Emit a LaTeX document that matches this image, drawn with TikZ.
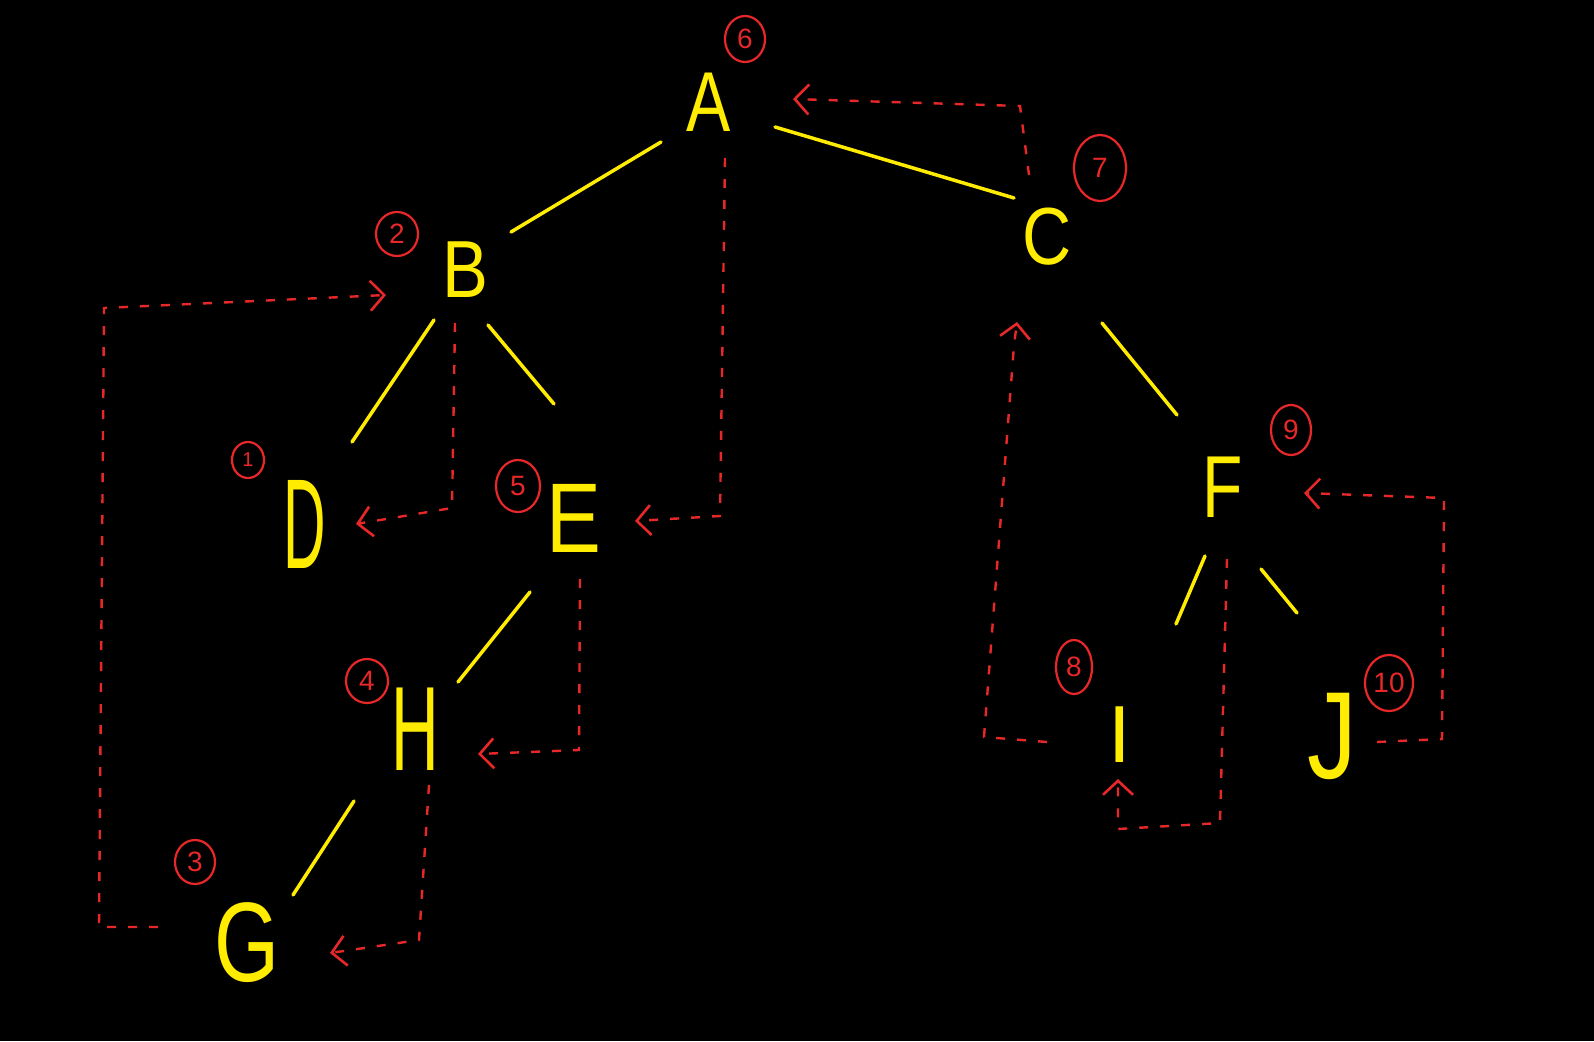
\documentclass[tikz,border=0pt]{standalone}
\usepackage{fontspec}
\setmainfont{Liberation Sans}
\usetikzlibrary{arrows.meta,calc,shapes.geometric}
\definecolor{yel}{RGB}{255,236,0}
\definecolor{thr}{RGB}{232,40,40}
\begin{document}
\begin{tikzpicture}[x=1pt,y=-1pt,
  letter/.style={text=yel,inner sep=0pt,font=\fontsize{#1}{#1}\selectfont},
  num/.style={ellipse,draw=thr,line width=2.2pt,text=thr,inner sep=0pt,font=\fontsize{28}{28}\selectfont},
  edge/.style={draw=yel,line width=3.5pt,line cap=round},
  thread/.style={draw=thr,line width=2.4pt,dash pattern=on 9pt off 12pt,
    -{Straight Barb[length=14pt,width=30pt,line width=2.6pt]}}]
\path[fill=black] (0,0) rectangle (1594,1041);

% letters
\node[letter=85,xscale=0.78]  (A) at (709,102) {A};
\node[letter=81,xscale=0.85]  (B) at (465,270) {B};
\node[letter=81,xscale=0.84]  (C) at (1047,237) {C};
\node[letter=128,xscale=0.46] (D) at (305,524) {D};
\node[letter=99,xscale=0.83]  (E) at (574,518) {E};
\node[letter=120,xscale=0.55] (H) at (415,729) {H};
\node[letter=113,xscale=0.74] (G) at (247,943) {G};
\node[letter=88,xscale=0.75]  (F) at (1223,487) {F};
\node[letter=81]  (I) at (1120,735) {I};
\node[letter=124,xscale=0.8] (J) at (1332,736) {J};

% circled numbers
\node[num,minimum width=40pt,minimum height=46pt] (n6) at (745,39) {6};
\node[num,minimum width=52pt,minimum height=66pt] (n7) at (1100,168) {7};
\node[num,minimum width=42pt,minimum height=44pt] (n2) at (397,234) {2};
\node[num,minimum width=32pt,minimum height=36pt,font=\fontsize{20}{20}\selectfont] (n1) at (248,460) {1};
\node[num,minimum width=44pt,minimum height=52pt] (n5) at (518,486) {5};
\node[num,minimum width=42pt,minimum height=44pt] (n4) at (367,681) {4};
\node[num,minimum width=40pt,minimum height=44pt] (n3) at (195,862) {3};
\node[num,minimum width=36pt,minimum height=54pt] (n8) at (1074,667) {8};
\node[num,minimum width=40pt,minimum height=50pt] (n9) at (1291,430) {9};
\node[num,minimum width=48pt,minimum height=56pt] (n10) at (1389,683) {10};

% tree edges
\draw[edge] ($(A)+(-48,40)$) -- ($(B)+(46,-38)$);
\draw[edge] ($(A)+(66,25)$) -- ($(C)+(-33,-39)$);
\draw[edge] ($(B)+(-31,50)$) -- ($(D)+(47,-82)$);
\draw[edge] ($(B)+(23,55)$) -- ($(E)+(-20,-114)$);
\draw[edge] ($(E)+(-44,74)$) -- ($(H)+(43,-47)$);
\draw[edge] ($(H)+(-61,72)$) -- ($(G)+(46,-48)$);
\draw[edge] ($(C)+(55,86)$) -- ($(F)+(-46,-72)$);
\draw[edge] ($(F)+(-18,69)$) -- ($(I)+(56,-111)$);
\draw[edge] ($(F)+(38,82)$) -- ($(J)+(-35,-123)$);

% threads
\draw[thread] ($(G)+(-89,-16)$) -- (99,927) -- (104,308) -- ($(B)+(-79,25)$);
\draw[thread] ($(B)+(-10,53)$) -- (452,508) -- ($(D)+(51,0)$);
\draw[thread] ($(A)+(16,56)$) -- (720,516) -- ($(E)+(61,3)$);
\draw[thread] ($(E)+(6,61)$) -- (579,750) -- ($(H)+(63,25)$);
\draw[thread] ($(H)+(14,56)$) -- (419,940) -- ($(G)+(83,10)$);
\draw[thread] ($(C)+(-18,-62)$) -- (1020,106) -- ($(A)+(84,-3)$);
\draw[thread] ($(I)+(-73,7)$) -- (984,737) -- (1014,345) -- ($(C)+(-30,85)$);
\draw[thread] ($(F)+(4,72)$) -- (1220,823) -- (1118,829) -- ($(I)+(-2,44)$);
\draw[thread] ($(J)+(45,6)$) -- (1442,739) -- (1444,498) -- ($(F)+(81,6)$);
\end{tikzpicture}
\end{document}
